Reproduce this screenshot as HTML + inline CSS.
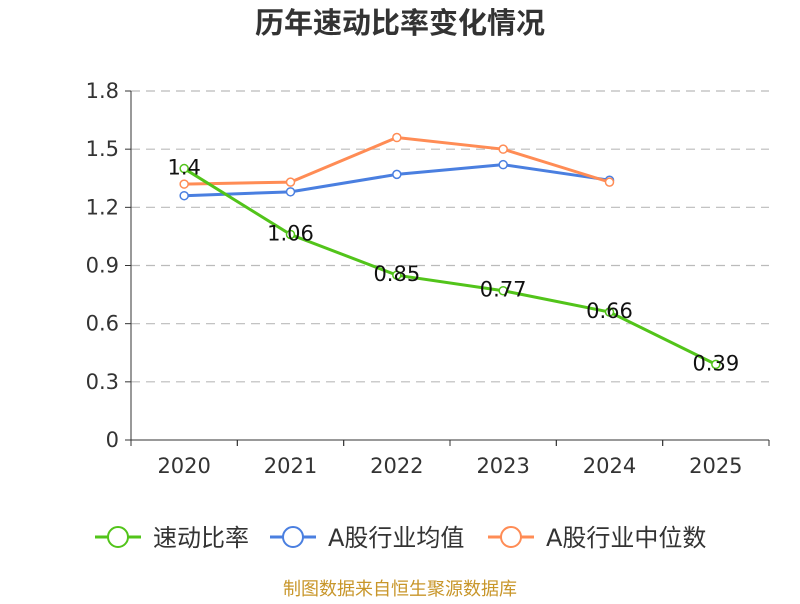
<!DOCTYPE html>
<html><head><meta charset="utf-8"><style>
body{margin:0;background:#fff;width:800px;height:600px;overflow:hidden;font-family:"DejaVu Sans","Noto Sans CJK SC",sans-serif}
</style></head><body>
<svg id="c" width="800" height="600" xmlns="http://www.w3.org/2000/svg"></svg>
<script>
const categories=["2020","2021","2022","2023","2024","2025"];
const quickRatio=[1.4,1.06,0.85,0.77,0.66,0.39];
const industryMean=[1.26,1.28,1.37,1.42,1.34,null];
const industryMedian=[1.32,1.33,1.56,1.50,1.33,null];
const yTicks=[0,0.3,0.6,0.9,1.2,1.5,1.8];
const quickLabels=["1.4","1.06","0.85","0.77","0.66","0.39"];
const NS="http://www.w3.org/2000/svg";
const svg=document.getElementById('c');
const x0=131,x1=769,y0=440,y1=91,ymax=1.8;
const bw=(x1-x0)/categories.length;
const xs=i=>x0+bw*(i+0.5);
const ys=v=>y0-(v/ymax)*(y0-y1);
function el(t,a,p){const e=document.createElementNS(NS,t);for(const k in a)e.setAttribute(k,a[k]);(p||svg).appendChild(e);return e;}
const font='"DejaVu Sans","Noto Sans CJK SC",sans-serif';
let t=el('text',{x:400,y:33,'text-anchor':'middle','font-size':29,'font-weight':'bold',fill:'#333','font-family':font});t.textContent='历年速动比率变化情况';

yTicks.forEach(v=>{
 const y=ys(v);
 if(v>0){const g=el('line',{x1:x0,x2:x1,y1:y,y2:y,stroke:'#bbb','stroke-dasharray':'9,6','stroke-width':1.2});
 }
 el('line',{x1:x0-6,x2:x0,y1:y,y2:y,stroke:'#333'});
 const l=el('text',{x:x0-12,y:y+7,'text-anchor':'end','font-size':21,fill:'#333','font-family':font});l.textContent=String(v);
 
});
let ya=el('line',{x1:x0,x2:x0,y1:y1,y2:y0,stroke:'#333'});
let xa=el('line',{x1:x0,x2:x1,y1:y0,y2:y0,stroke:'#333'});
categories.forEach((c,i)=>{
 for(const xx of [x0+bw*i,x0+bw*(i+1)])el('line',{x1:xx,x2:xx,y1:y0,y2:y0+6,stroke:'#333'});
 const l=el('text',{x:xs(i),y:y0+33,'text-anchor':'middle','font-size':21,fill:'#333','font-family':font});l.textContent=c;
 
});
function series(vals,color,name){
 const pts=[];vals.forEach((v,i)=>{if(v!=null)pts.push([xs(i),ys(v)]);});
 const p=el('polyline',{points:pts.map(p=>p.join(',')).join(' '),fill:'none',stroke:color,'stroke-width':3});
 
 pts.forEach(q=>{const c=el('circle',{cx:q[0],cy:q[1],r:4,fill:'#fff',stroke:color,'stroke-width':1.5});
 });
}
series(industryMean,'#4a7fe0','industry-mean');
series(industryMedian,'#ff8c55','industry-median');
series(quickRatio,'#52c41a','quick-ratio');
quickRatio.forEach((v,i)=>{const l=el('text',{x:xs(i),y:ys(v)+6,'text-anchor':'middle','font-size':21,fill:'#111','font-family':font});l.textContent=quickLabels[i];
 });
const leg=[["速动比率",'#52c41a',95],["A股行业均值",'#4a7fe0',270],["A股行业中位数",'#ff8c55',488]];
leg.forEach(([n,c,x])=>{
 const g=el('g',{});
 el('line',{x1:x,x2:x+46,y1:537,y2:537,stroke:c,'stroke-width':3},g);
 el('circle',{cx:x+23,cy:537,r:10,fill:'#fff',stroke:c,'stroke-width':2},g);
 const l=el('text',{x:x+58,y:546,'font-size':24,fill:'#333','font-family':font},g);l.textContent=n;
});
let f=el('text',{x:400,y:595,'text-anchor':'middle','font-size':18,fill:'#c8962a','font-family':font});f.textContent='制图数据来自恒生聚源数据库';

</script>
</body></html>
